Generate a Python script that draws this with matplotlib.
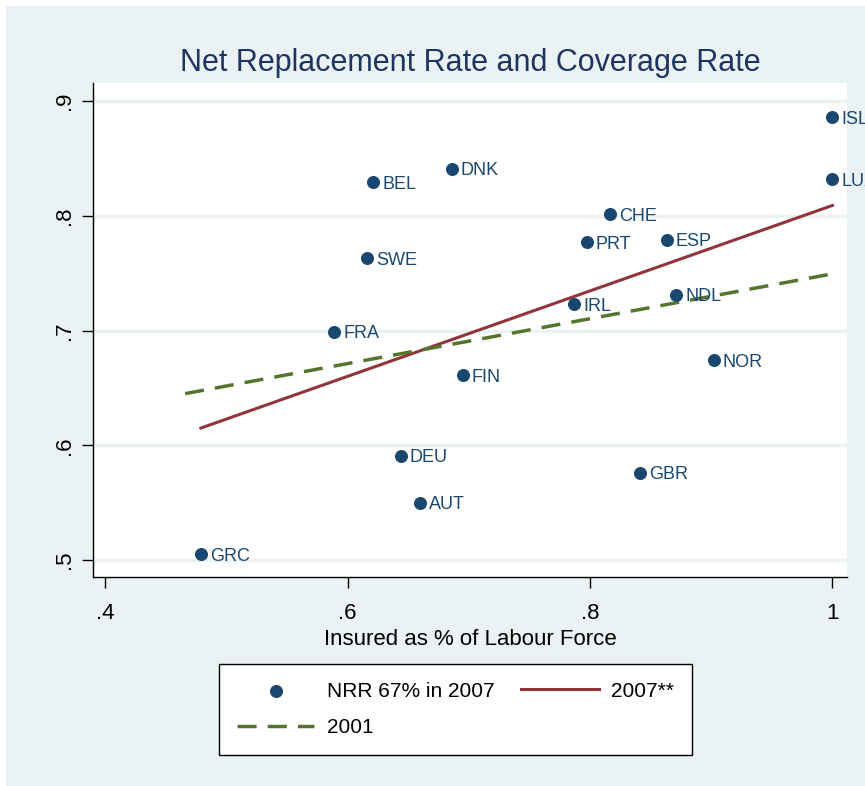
import matplotlib
matplotlib.use("Agg")
import matplotlib.pyplot as plt
from matplotlib.patches import Rectangle
from matplotlib import font_manager

names = {f.name for f in font_manager.fontManager.ttflist}
FONT = "Liberation Sans Narrow" if "Liberation Sans Narrow" in names else "Liberation Sans"
plt.rcParams['font.family'] = [FONT, 'DejaVu Sans']

countries = ["ISL", "LUX", "DNK", "BEL", "CHE", "PRT", "ESP", "SWE", "IRL", "NDL",
             "FRA", "NOR", "FIN", "DEU", "GBR", "AUT", "GRC"]
insured = [1.000, 1.000, 0.686, 0.621, 0.8165, 0.7975, 0.8635, 0.616, 0.787, 0.871,
           0.589, 0.902, 0.695, 0.644, 0.841, 0.660, 0.479]
nrr = [0.886, 0.832, 0.841, 0.829, 0.8015, 0.777, 0.779, 0.763, 0.723, 0.731,
       0.699, 0.674, 0.661, 0.591, 0.576, 0.550, 0.505]

fit2007_x = [0.479, 1.000]
fit2007_y = [0.615, 0.809]
fit2001_x = [0.466, 0.998]
fit2001_y = [0.645, 0.749]

xticks = [0.4, 0.6, 0.8, 1.0]
xticklabels = [".4", ".6", ".8", "1"]
yticks = [0.5, 0.6, 0.7, 0.8, 0.9]
yticklabels = [".5", ".6", ".7", ".8", ".9"]

BG = "#eaf2f3"
NAVY = "#1a476f"
MAROON = "#90353b"
GREEN = "#55752f"

W, H = 865, 786
fig = plt.figure(figsize=(W / 100, H / 100), dpi=100, facecolor="white")
fig.patches.append(Rectangle((6 / W, 0), 1, 1 - 6 / H, transform=fig.transFigure,
                             facecolor=BG, edgecolor="none", zorder=-10))

ax = fig.add_axes([93 / W, 1 - 577 / H, (847 - 93) / W, (577 - 83) / H])
ax.set_facecolor("white")
ax.set_xlim(0.390, 1.012)
ax.set_ylim(0.4852, 0.9157)

for yv in yticks:
    ax.axhline(yv, color=BG, lw=2.5, zorder=0)

for s in ["top", "right"]:
    ax.spines[s].set_visible(False)
for s in ["left", "bottom"]:
    ax.spines[s].set_color("black")
    ax.spines[s].set_linewidth(1.0)

ax.set_xticks(xticks)
ax.set_xticklabels(xticklabels, fontsize=16)
ax.set_yticks(yticks)
ax.set_yticklabels(yticklabels, fontsize=16, rotation=90, va="center")
ax.tick_params(axis="x", direction="out", length=8, width=1, pad=11)
ax.tick_params(axis="y", direction="out", length=8, width=1, pad=5)

sc = ax.scatter(insured, nrr, s=70, color=NAVY, zorder=3, label="NRR 67% in 2007")
for c, xv, yv in zip(countries, insured, nrr):
    ax.annotate(c, (xv, yv), xytext=(9, -2), textcoords="offset pixels",
                fontsize=13, color=NAVY, va="center", ha="left",
                annotation_clip=False, zorder=4)

l1, = ax.plot(fit2007_x, fit2007_y, color=MAROON, lw=2.2, label="2007**", zorder=2)
l2, = ax.plot(fit2001_x, fit2001_y, color=GREEN, lw=2.5, ls=(0, (5.5, 3.2)),
              label="2001", zorder=2)

ax.set_xlabel("Insured as % of Labour Force", fontsize=16, labelpad=3)
ax.set_title("Net Replacement Rate and Coverage Rate", fontsize=22, color="#1e3461", pad=9)

leg = fig.legend(handles=[sc, l2, l1], labels=["NRR 67% in 2007", "2001", "2007**"],
                 ncol=2, loc="center", bbox_to_anchor=(455.5 / W, 1 - 709.5 / H),
                 fontsize=15, frameon=True, fancybox=False, edgecolor="black",
                 facecolor="white", framealpha=1.0,
                 handlelength=3.7, columnspacing=1.3, borderpad=0.85, labelspacing=0.85,
                 handletextpad=0.6)
leg.get_frame().set_linewidth(1.0)

fig.savefig("out.png", dpi=100, facecolor="white")
